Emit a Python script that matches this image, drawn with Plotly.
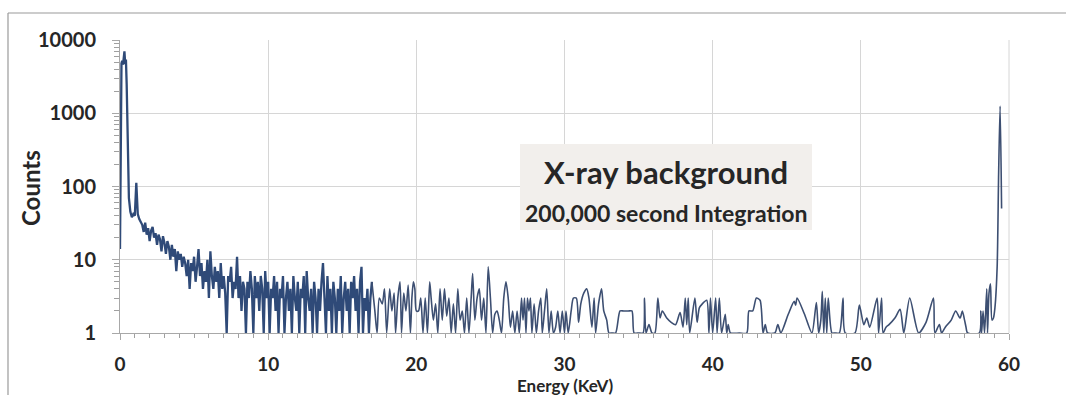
import plotly.graph_objects as go

# ---------------- data ----------------
energy_dense = [0.0, 0.05, 0.1, 0.15, 0.2, 0.25, 0.3, 0.35, 0.4, 0.45, 0.5, 0.55, 0.6, 0.7, 0.8, 0.9, 1.0, 1.1, 1.2, 1.3, 1.4,
                1.5, 1.6, 1.7, 1.8, 1.9, 2.0, 2.1, 2.2, 2.3, 2.4,
                2.5, 2.6, 2.7, 2.8, 2.9, 3.0, 3.1, 3.2, 3.3, 3.4,
                3.5, 3.6, 3.7, 3.8, 3.9, 4.0, 4.1, 4.2, 4.3, 4.4,
                4.5, 4.6, 4.7, 4.8, 4.9, 5.0, 5.1, 5.2, 5.3, 5.4,
                5.5, 5.6, 5.7, 5.8, 5.9, 6.0, 6.1, 6.2, 6.3, 6.4,
                6.5, 6.6, 6.7, 6.8, 6.9, 7.0, 7.1, 7.2, 7.3, 7.4,
                7.5, 7.6, 7.7, 7.8, 7.9, 8.0, 8.1, 8.2, 8.3, 8.4,
                8.5, 8.6, 8.7, 8.8, 8.9, 9.0, 9.1, 9.2, 9.3, 9.4,
                9.5, 9.6, 9.7, 9.8, 9.9, 10.0, 10.1, 10.2, 10.3, 10.4,
                10.5, 10.6, 10.7, 10.8, 10.9, 11.0, 11.1, 11.2, 11.3, 11.4,
                11.5, 11.6, 11.7, 11.8, 11.9, 12.0, 12.1, 12.2, 12.3, 12.4,
                12.5, 12.6, 12.7, 12.8, 12.9, 13.0, 13.1, 13.2, 13.3, 13.4,
                13.5, 13.6, 13.7, 13.8, 13.9, 14.0, 14.1, 14.2, 14.3, 14.4,
                14.5, 14.6, 14.7, 14.8, 14.9, 15.0, 15.1, 15.2, 15.3, 15.4,
                15.5, 15.6, 15.7, 15.8, 15.9, 16.0, 16.1, 16.2, 16.3, 16.4,
                16.5, 16.6, 16.7, 16.8, 16.9, 17.0]
counts_dense = [14, 900, 4800, 5200, 4600, 5600, 7000, 4700, 5400, 2500, 600, 150, 70, 45, 38, 42, 40, 112, 42, 36, 33,
                30, 24, 32, 22, 27, 18, 25, 28, 20, 23,
                16, 22, 19, 13, 21, 17, 12, 18, 15, 10,
                16, 11, 14, 7, 13, 10, 12, 8, 11, 9,
                6, 10, 4, 9, 7, 11, 5, 8, 14, 6,
                9, 4, 7, 5, 10, 3, 13, 6, 4, 8,
                5, 7, 3, 9, 4, 6, 3.5, 1, 6, 5,
                8, 3, 5, 4, 11, 3, 6, 2, 5, 4,
                1, 5, 3, 7, 4, 1, 6, 3, 5, 2,
                6, 4, 1, 7, 3, 5, 1, 4, 3, 6,
                2, 5, 1, 4, 3, 6, 1, 3, 5, 2,
                4, 1, 6, 3, 2, 5, 1, 4, 3, 6,
                1, 7, 3, 2, 4, 1, 5, 3, 1, 4,
                2, 5, 9, 3, 1, 6, 2, 4, 1, 5,
                3, 1, 4, 2, 6, 1, 3, 5, 2, 4,
                1, 5, 3, 6, 2, 4, 1, 5, 8, 1,
                3, 2, 4, 1, 3, 5]

energy_sparse = [17.0, 17.2, 17.35, 17.5, 17.7, 17.85, 18.0, 18.2, 18.35, 18.5, 18.6, 18.75, 18.9, 19.0, 19.15, 19.3,
                 19.45, 19.6, 19.7, 19.8, 19.9, 20.0, 20.15, 20.3, 20.45, 20.6, 20.75, 20.9, 21.0, 21.15, 21.3, 21.45,
                 21.6, 21.75, 21.9, 22.05, 22.2, 22.35, 22.5, 22.65, 22.8, 22.95, 23.1, 23.25, 23.4, 23.55, 23.7, 23.8,
                 23.95, 24.1, 24.25, 24.4, 24.55, 24.7, 24.85, 25.0, 25.15, 25.3, 25.45, 25.6, 25.75, 25.9, 26.05, 26.2,
                 26.35, 26.5, 26.65, 26.8, 26.95, 27.1, 27.2, 27.3, 27.4, 27.5, 27.6, 27.7, 27.8, 27.95, 28.1, 28.25,
                 28.4, 28.5, 28.65, 28.8, 28.95, 29.1, 29.25, 29.4, 29.55, 29.7, 29.85, 30.0, 30.1, 30.25, 30.45, 30.6,
                 30.8, 30.95, 31.1, 31.3, 31.5, 31.65, 31.85, 32.0, 32.1, 32.3, 32.5, 32.65, 32.85, 33.0, 33.2, 33.45,
                 33.75, 34.0, 34.3, 34.55, 34.7, 35.0, 35.3, 35.4, 35.5, 35.7, 35.9, 36.1, 36.3, 36.45, 36.6, 36.9,
                 37.2, 37.5, 37.8, 38.0, 38.15, 38.25, 38.35, 38.45, 38.8, 38.95, 39.1, 39.3, 39.6, 39.75, 39.85, 40.0,
                 40.2, 40.3, 40.45, 40.6, 40.85, 40.95, 41.05, 41.2, 41.8, 42.3, 42.45, 42.7, 42.95, 43.2, 43.4, 43.55,
                 43.7, 44.2, 44.4, 44.6, 45.1, 45.5, 45.6, 45.7, 46.2, 46.7, 47.0, 47.15, 47.3, 47.4, 47.5, 47.6,
                 47.7, 47.8, 48.05, 48.25, 48.55, 48.8, 48.95, 49.6, 49.9, 50.2, 50.4, 50.6, 51.1, 51.2, 51.4, 51.5,
                 51.7, 51.9, 52.3, 52.65, 52.9, 53.3, 53.9, 54.4, 54.9, 55.0, 55.3, 55.45, 55.7, 56.1, 56.4, 56.7,
                 56.85, 57.0, 57.1, 57.2, 58.0, 58.1, 58.15, 58.25, 58.35, 58.5, 58.55, 58.65, 58.75, 58.85, 58.95, 59.05,
                 59.2, 59.3, 59.4, 59.5]
counts_sparse = [5, 2, 1, 3, 2.5, 4, 1, 4, 2, 3.5, 1, 3, 5, 1, 3.5, 2,
                 4.5, 1, 3, 5, 4, 2, 2, 3, 1, 3, 1, 5, 3, 1.5, 2.5, 1,
                 4, 1.5, 4, 1.7, 3, 1, 2.5, 1, 4, 1.5, 2, 1, 3, 1, 3, 6.5,
                 1.5, 3, 4, 1.5, 3, 1, 8, 3, 1, 1.8, 2, 1.5, 1, 3, 5, 3,
                 1.2, 2, 1, 2, 1, 3, 1.5, 3, 1, 3, 2, 3, 1, 2.5, 1, 2,
                 3, 1, 2, 4, 1, 2, 1, 1.2, 2, 1, 2, 1, 2, 1, 2, 3,
                 3, 1.4, 2.5, 3.5, 4, 3, 1.2, 3, 1, 2.5, 4, 2, 1.5, 1, 1, 1,
                 2, 2, 2, 2, 1, 1, 1, 3, 1, 1.3, 1, 1, 3, 1.6, 2, 1.6,
                 1.4, 1.3, 1.9, 1.2, 3, 1.3, 3, 1, 3, 1.4, 2.2, 2.5, 2.8, 1, 3, 1,
                 3, 1, 3, 1, 1.8, 1, 1.3, 1, 1, 1, 2, 2, 3, 2.8, 1, 1.3,
                 1, 1, 1.3, 1, 1.8, 2.7, 2.4, 3, 1.8, 1, 2.6, 1, 1.5, 3.7, 1, 3,
                 1, 3, 1, 1, 1, 3, 1, 1, 2.4, 1.3, 1.6, 1.2, 3, 1, 3, 1,
                 1.2, 1.3, 1.6, 2.1, 1, 3, 1, 1.4, 3, 1, 1.3, 1, 1.2, 1.5, 2, 1.6,
                 2, 1.5, 1.2, 1, 1, 2, 1, 2, 1, 4, 1, 3.5, 4.7, 1.5, 1.6, 2.2,
                 8, 150, 1250, 50]

y_tickvals = [1, 10, 100, 1000, 10000]
y_ticktext = ["1", "10", "100", "1000", "10000"]
x_tickvals = [0, 10, 20, 30, 40, 50, 60]

# ---------------- layout constants ----------------
W, H = 1066, 395
L, R, T, B = 120, 57, 40, 62
PW, PH = W - L - R, H - T - B
LINE = "#2f4a78"
FONT = "Lato"
TXT = "#262626"

y_minor = [m * 10 ** d for d in range(4) for m in range(2, 10)]
x_minor = [v for v in range(1, 60) if v % 10]


def px2paper_x(px):
    return (px - L) / PW


def px2paper_y(py):
    return (H - B - py) / PH


fig = go.Figure()
fig.add_trace(go.Scatter(x=energy_dense, y=counts_dense, mode="lines",
                         line=dict(color=LINE, width=2.3), showlegend=False))
fig.add_trace(go.Scatter(x=energy_sparse, y=counts_sparse, mode="lines",
                         line=dict(color="#3d4f72", width=1.6, shape="spline", smoothing=0.7),
                         showlegend=False))

fig.update_layout(
    width=W, height=H,
    margin=dict(l=L, r=R, t=T, b=B, pad=0),
    paper_bgcolor="white", plot_bgcolor="white",
    font=dict(family=FONT, color=TXT),
    xaxis=dict(range=[0, 60], tickvals=x_tickvals, showgrid=True, gridcolor="#d6d6d6", gridwidth=1,
               showline=True, linecolor="#a8a8a8", linewidth=1, zeroline=False, automargin=False,
               ticks="outside", ticklen=6, tickcolor="#a8a8a8",
               minor=dict(tickvals=x_minor, ticks="outside", ticklen=4, tickcolor="#a0a0a0", showgrid=False),
               tickfont=dict(size=19, family=FONT, color=TXT, weight="bold"),
               ticklabelstandoff=8),
    yaxis=dict(type="log", range=[0, 4], tickvals=y_tickvals, ticktext=y_ticktext,
               showgrid=True, gridcolor="#d6d6d6", gridwidth=1,
               showline=True, linecolor="#a8a8a8", linewidth=1, zeroline=False, automargin=False,
               ticks="outside", ticklen=7, tickcolor="#a8a8a8",
               minor=dict(tickvals=y_minor, ticks="outside", ticklen=5, tickcolor="#a0a0a0", showgrid=False),
               tickfont=dict(size=20, family=FONT, color=TXT, weight="bold"),
               ticklabelstandoff=12),
)

# axis titles
fig.add_annotation(xref="paper", yref="paper", x=px2paper_x(565), y=px2paper_y(385),
                   text="<b>Energy (KeV)</b>", showarrow=False,
                   font=dict(size=17, color=TXT, family=FONT), xanchor="center", yanchor="middle")
fig.add_annotation(xref="paper", yref="paper", x=px2paper_x(30), y=px2paper_y(188),
                   text="<b>Counts</b>", showarrow=False, textangle=-90,
                   font=dict(size=24, color=TXT, family=FONT), xanchor="center", yanchor="middle")

# right border of the plot and outer frame
fig.add_shape(type="line", xref="paper", yref="paper", x0=1, x1=1, y0=0, y1=1,
              line=dict(color="#d6d6d6", width=1))
fig.add_shape(type="line", xref="paper", yref="paper",
              x0=px2paper_x(8), x1=px2paper_x(W + 5), y0=px2paper_y(13), y1=px2paper_y(13),
              line=dict(color="#9a9a9a", width=1.2))
fig.add_shape(type="line", xref="paper", yref="paper",
              x0=px2paper_x(8), x1=px2paper_x(8), y0=px2paper_y(13), y1=px2paper_y(H + 5),
              line=dict(color="#9a9a9a", width=1.2))

# label box
fig.add_shape(type="rect", xref="paper", yref="paper",
              x0=px2paper_x(520), x1=px2paper_x(812), y0=px2paper_y(230), y1=px2paper_y(144),
              fillcolor="#f2efec", line=dict(width=0), layer="above")
fig.add_annotation(xref="paper", yref="paper", x=px2paper_x(666), y=px2paper_y(172),
                   text="<b>X-ray background</b>", showarrow=False,
                   font=dict(size=31, color=TXT, family=FONT), xanchor="center", yanchor="middle")
fig.add_annotation(xref="paper", yref="paper", x=px2paper_x(666), y=px2paper_y(213),
                   text="<b>200,000 second Integration</b>", showarrow=False,
                   font=dict(size=23, color=TXT, family=FONT), xanchor="center", yanchor="middle")

fig.write_html("out.html")
